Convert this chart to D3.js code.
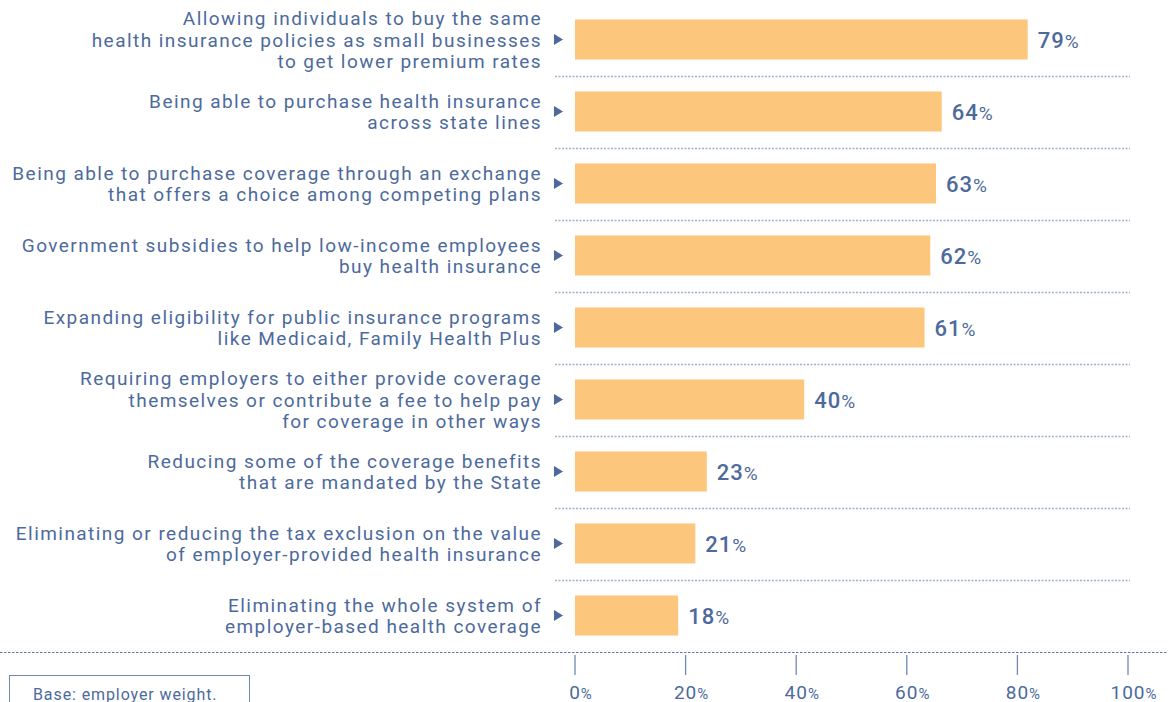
<!DOCTYPE html>
<html>
<head>
<meta charset="utf-8">
<script src="https://cdn.jsdelivr.net/npm/d3@7"></script>
<style>
  body { margin: 0; background: #fff; }
  text { font-family: Roboto, "Noto Sans", sans-serif; fill: #4d6a9c; }
</style>
</head>
<body>
<svg id="chart" width="1168" height="702"></svg>
<script>
const svg = d3.select('#chart');
const width = +svg.attr('width');
const height = +svg.attr('height');

// data
const labels = [
  ['Allowing individuals to buy the same', 'health insurance policies as small businesses', 'to get lower premium rates'],
  ['Being able to purchase health insurance', 'across state lines'],
  ['Being able to purchase coverage through an exchange', 'that offers a choice among competing plans'],
  ['Government subsidies to help low-income employees', 'buy health insurance'],
  ['Expanding eligibility for public insurance programs', 'like Medicaid, Family Health Plus'],
  ['Requiring employers to either provide coverage', 'themselves or contribute a fee to help pay', 'for coverage in other ways'],
  ['Reducing some of the coverage benefits', 'that are mandated by the State'],
  ['Eliminating or reducing the tax exclusion on the value', 'of employer-provided health insurance'],
  ['Eliminating the whole system of', 'employer-based health coverage']
];
const values = [79, 64, 63, 62, 61, 40, 23, 21, 18];
const ticks = [0, 20, 40, 60, 80, 100];
const note = 'Base: employer weight.';

const blue = '#4d6a9c';
const barColor = '#fdc67d';

const rows = d3.range(values.length);

// bars are drawn slightly longer than the axis in the original
const xBar = d3.scaleLinear().domain([0, 100]).range([575, 1148]);
const xAxis = d3.scaleLinear().domain([0, 100]).range([575, 1128]);
const y = d3.scaleBand().domain(rows).range([3.5, 651.5]).paddingInner(0.444).paddingOuter(0.222);

// separators between rows
svg.append('g').selectAll('line')
    .data(rows.slice(0, -1))
    .join('line')
    .attr('x1', 555)
    .attr('x2', 1130)
    .attr('y1', d => Math.round(y(d) + y.bandwidth() + y.step() * 0.222) + 0.5)
    .attr('y2', d => Math.round(y(d) + y.bandwidth() + y.step() * 0.222) + 0.5)
    .attr('stroke', '#9fb0cc')
    .attr('stroke-width', 1.3)
    .attr('stroke-dasharray', '2,1.5');

// bottom full-width separator
svg.append('line')
    .attr('x1', 0).attr('x2', width)
    .attr('y1', 652.5).attr('y2', 652.5)
    .attr('stroke', '#5a78aa')
    .attr('stroke-width', 1.2)
    .attr('stroke-dasharray', '2.5,1.5');

// bars
svg.append('g').selectAll('rect')
    .data(values)
    .join('rect')
    .attr('x', xBar(0))
    .attr('y', (d, i) => y(i))
    .attr('width', d => xBar(d) - xBar(0))
    .attr('height', y.bandwidth())
    .attr('fill', barColor);

// little pointer triangles
svg.append('g').selectAll('path')
    .data(rows)
    .join('path')
    .attr('d', d => {
      const cy = y(d) + y.bandwidth() / 2;
      return `M554,${cy - 5.5}L563,${cy}L554,${cy + 5.5}Z`;
    })
    .attr('fill', blue);

// category labels, right aligned
const lineH = 21.5;
const lab = svg.append('g').selectAll('text')
    .data(labels)
    .join('text')
    .attr('text-anchor', 'end')
    .attr('font-size', 19)
    .attr('letter-spacing', 1.45)
    .attr('y', (d, i) => y(i) + y.bandwidth() / 2 - (d.length - 1) * lineH / 2 + 7);
lab.selectAll('tspan')
    .data(d => d)
    .join('tspan')
    .attr('x', 542)
    .attr('dy', (d, j) => j === 0 ? 0 : lineH)
    .text(d => d);

// value labels
const val = svg.append('g').selectAll('text')
    .data(values)
    .join('text')
    .attr('x', d => xBar(d) + 10)
    .attr('y', (d, i) => y(i) + y.bandwidth() / 2 + 8)
    .attr('letter-spacing', 1);
val.append('tspan').attr('font-size', 22).attr('font-weight', 500).text(d => d);
val.append('tspan').attr('font-size', 19).text('%');

// axis ticks
const ax = svg.append('g');
ax.selectAll('line')
    .data(ticks)
    .join('line')
    .attr('x1', d => xAxis(d)).attr('x2', d => xAxis(d))
    .attr('y1', 655).attr('y2', 675)
    .attr('stroke', '#7088b4')
    .attr('stroke-width', 1.3);
const tl = ax.selectAll('text')
    .data(ticks)
    .join('text')
    .attr('x', d => xAxis(d) + 6)
    .attr('y', 699)
    .attr('text-anchor', 'middle')
    .attr('letter-spacing', 1);
tl.append('tspan').attr('font-size', 19).text(d => d);
tl.append('tspan').attr('font-size', 15).text('%');

// base note box
svg.append('rect')
    .attr('x', 9.5).attr('y', 675.5)
    .attr('width', 240).attr('height', 40)
    .attr('fill', 'none')
    .attr('stroke', '#6f86b0')
    .attr('stroke-width', 1);
svg.append('text')
    .attr('x', 33).attr('y', 700)
    .attr('font-size', 16)
    .attr('letter-spacing', 0.9)
    .text(note);
</script>
</body>
</html>
